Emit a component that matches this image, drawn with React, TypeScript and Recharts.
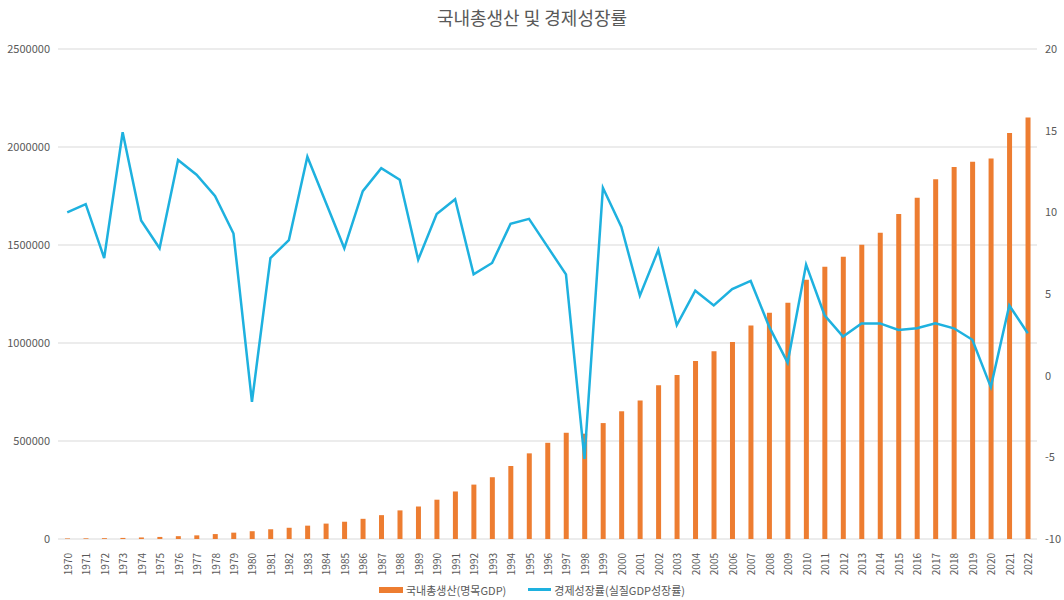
import React from 'react';
import {
  ComposedChart,
  Bar,
  Line,
  XAxis,
  YAxis,
  CartesianGrid,
  Legend,
} from 'recharts';

const years = [
  '1970', '1971', '1972', '1973', '1974', '1975', '1976', '1977', '1978', '1979',
  '1980', '1981', '1982', '1983', '1984', '1985', '1986', '1987', '1988', '1989',
  '1990', '1991', '1992', '1993', '1994', '1995', '1996', '1997', '1998', '1999',
  '2000', '2001', '2002', '2003', '2004', '2005', '2006', '2007', '2008', '2009',
  '2010', '2011', '2012', '2013', '2014', '2015', '2016', '2017', '2018', '2019',
  '2020', '2021', '2022',
];

// 국내총생산(명목GDP), 십억원
const gdp = [
  2796, 3438, 4267, 5527, 7905, 10543, 14472, 18608, 25154, 32402,
  39725, 49670, 57287, 68080, 78591, 88130, 102986, 121698, 145995, 165802,
  200556, 242481, 277541, 315181, 372493, 436989, 490851, 542002, 537215, 591453,
  651634, 707021, 784741, 837365, 908439, 957448, 1005601, 1089660, 1154217, 1205348,
  1322611, 1388937, 1440111, 1500819, 1562929, 1658020, 1740780, 1835698, 1898193, 1924498,
  1940726, 2071658, 2150000,
];

// 경제성장률(실질GDP성장률), %
const growth = [
  10.0, 10.5, 7.2, 14.9, 9.5, 7.8, 13.2, 12.3, 11.0, 8.7,
  -1.6, 7.2, 8.3, 13.4, 10.6, 7.8, 11.3, 12.7, 12.0, 7.1,
  9.9, 10.8, 6.2, 6.9, 9.3, 9.6, 7.9, 6.2, -5.1, 11.5,
  9.1, 4.9, 7.7, 3.1, 5.2, 4.3, 5.3, 5.8, 3.0, 0.8,
  6.8, 3.7, 2.4, 3.2, 3.2, 2.8, 2.9, 3.2, 2.9, 2.2,
  -0.7, 4.3, 2.6,
];

const leftTicks = [0, 500000, 1000000, 1500000, 2000000, 2500000];
const rightTicks = [-10, -5, 0, 5, 10, 15, 20];

const GDP_NAME = '국내총생산(명목GDP)';
const GROWTH_NAME = '경제성장률(실질GDP성장률)';

const ORANGE = '#ED7D31';
const BLUE = '#1EB1DF';
const TEXT = '#595959';
const FONT = '"Noto Sans CJK KR", "Noto Sans", sans-serif';

const data = years.map((year, i) => ({
  year,
  gdp: gdp[i],
  growth: growth[i],
}));

const XTick = ({ x, y, payload }: any) => (
  <text
    x={x}
    y={y}
    transform={`rotate(-90, ${x}, ${y})`}
    textAnchor="end"
    dominantBaseline="central"
    dx={-6}
    fontSize={10}
    fill={TEXT}
    fontFamily={FONT}
  >
    {payload.value}
  </text>
);

const LegendContent = () => (
  <div
    style={{
      display: 'flex',
      justifyContent: 'center',
      alignItems: 'center',
      height: 21,
      fontFamily: FONT,
      fontSize: 11,
      color: TEXT,
    }}
  >
    <span style={{ display: 'inline-block', width: 24, height: 6, background: ORANGE, marginRight: 3 }} />
    <span style={{ marginRight: 22 }}>{GDP_NAME}</span>
    <span style={{ display: 'inline-block', width: 23, height: 3, background: BLUE, marginRight: 3 }} />
    <span>{GROWTH_NAME}</span>
  </div>
);

export default function App() {
  return (
    <div style={{ position: 'absolute', left: 0, top: 0, width: 1064, height: 600, background: '#fff', fontFamily: FONT }}>
      <div
        style={{
          position: 'absolute',
          top: 4,
          left: 0,
          width: 1064,
          textAlign: 'center',
          fontSize: 18,
          color: TEXT,
          fontFamily: FONT,
        }}
      >
        국내총생산 및 경제성장률
      </div>
      <ComposedChart
        width={1064}
        height={600}
        data={data}
        margin={{ top: 49, right: 0, left: 0, bottom: 0 }}
        barCategoryGap={0}
      >
        <CartesianGrid yAxisId="left" vertical={false} stroke="#D9D9D9" />
        <XAxis
          dataKey="year"
          interval={0}
          height={40}
          axisLine={false}
          tickLine={false}
          tick={<XTick />}
        />
        <YAxis
          yAxisId="left"
          orientation="left"
          width={58}
          domain={[0, 2500000]}
          ticks={leftTicks}
          axisLine={false}
          tickLine={false}
          tick={{ fontSize: 11, fill: TEXT, fontFamily: FONT }}
        />
        <YAxis
          yAxisId="right"
          orientation="right"
          width={27}
          domain={[-10, 20]}
          ticks={rightTicks}
          axisLine={false}
          tickLine={false}
          tick={{ fontSize: 11, fill: TEXT, fontFamily: FONT }}
        />
        <Legend verticalAlign="bottom" height={21} content={<LegendContent />} />
        <Bar
          yAxisId="left"
          dataKey="gdp"
          name={GDP_NAME}
          fill={ORANGE}
          barSize={5}
          isAnimationActive={false}
        />
        <Line
          yAxisId="right"
          type="linear"
          dataKey="growth"
          name={GROWTH_NAME}
          stroke={BLUE}
          strokeWidth={2.5}
          dot={false}
          activeDot={false}
          isAnimationActive={false}
        />
      </ComposedChart>
    </div>
  );
}
